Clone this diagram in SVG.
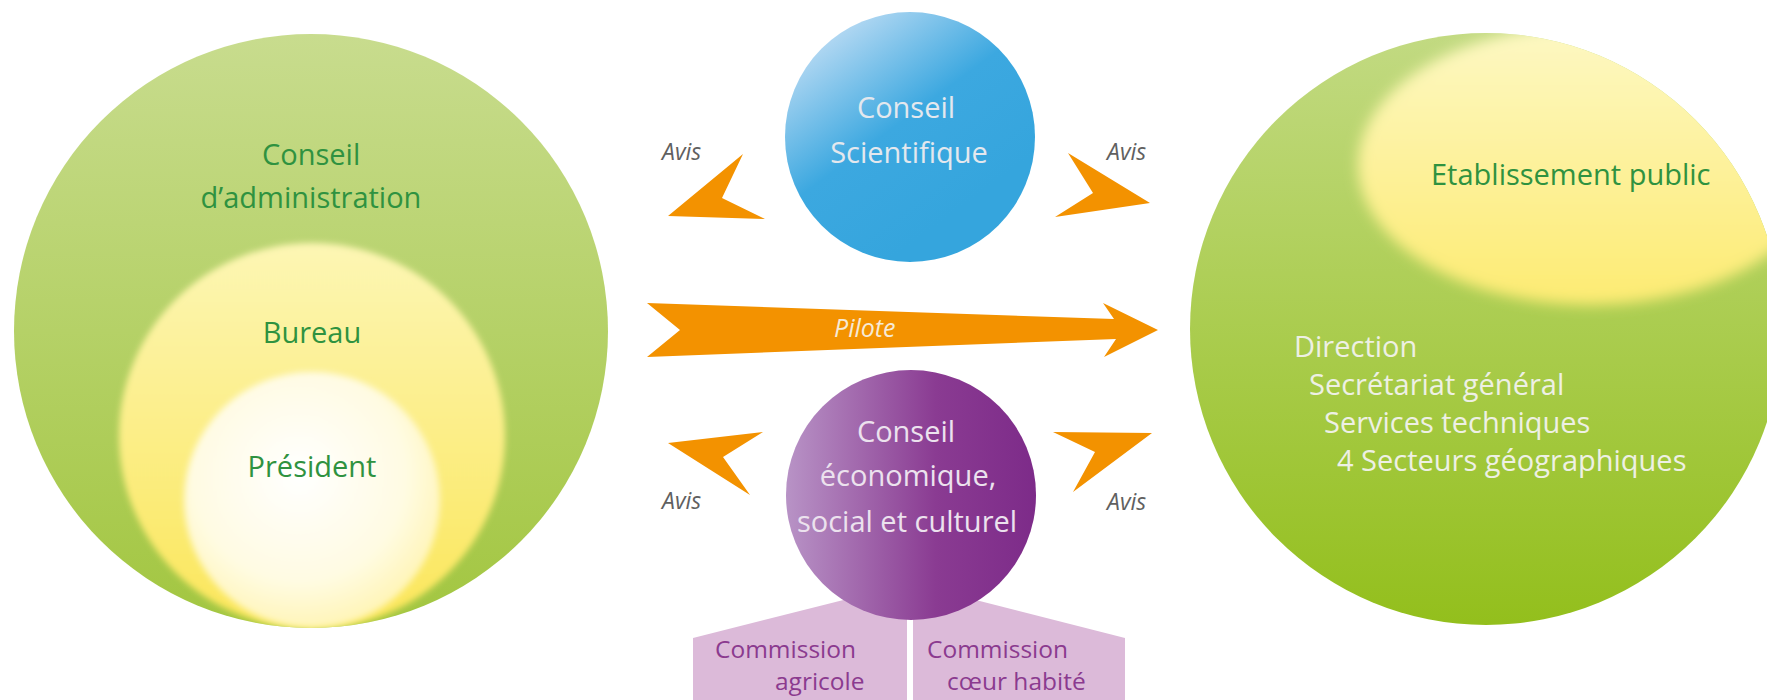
<svg xmlns="http://www.w3.org/2000/svg" width="1767" height="700" viewBox="0 0 1767 700">
<defs>
<linearGradient id="gLeft" x1="0" y1="0" x2="0" y2="1"><stop offset="0" stop-color="#c8dc8e"/><stop offset="1" stop-color="#a2c640"/></linearGradient>
<linearGradient id="gRight" x1="0" y1="0" x2="0" y2="1"><stop offset="0" stop-color="#c2da82"/><stop offset="1" stop-color="#93bf1c"/></linearGradient>
<linearGradient id="gBureau" x1="0" y1="0" x2="0" y2="1"><stop offset="0" stop-color="#fdf6b4"/><stop offset="1" stop-color="#fbe65a"/></linearGradient>
<radialGradient id="gPres" cx="0.45" cy="0.4" r="0.6"><stop offset="0" stop-color="#ffffff"/><stop offset="0.7" stop-color="#fffbe2"/><stop offset="1" stop-color="#fff5b8"/></radialGradient>
<linearGradient id="gEtab" x1="0" y1="0" x2="0" y2="1"><stop offset="0" stop-color="#fdf8c4"/><stop offset="1" stop-color="#fdeb72"/></linearGradient>
<linearGradient id="gBlue" x1="0.2" y1="0" x2="0.75" y2="0.75"><stop offset="0" stop-color="#c4dff5"/><stop offset="0.55" stop-color="#3ca8e0"/><stop offset="1" stop-color="#35a5dd"/></linearGradient>
<linearGradient id="gPurple" x1="0" y1="0" x2="1" y2="0"><stop offset="0" stop-color="#b893c6"/><stop offset="0.6" stop-color="#8a3b92"/><stop offset="1" stop-color="#7d2b89"/></linearGradient>
<filter id="soft" x="-10%" y="-10%" width="120%" height="120%"><feGaussianBlur stdDeviation="3"/></filter>
<filter id="soft2" x="-10%" y="-10%" width="120%" height="120%"><feGaussianBlur stdDeviation="7"/></filter>
<clipPath id="clipRight"><circle cx="1486" cy="329" r="296"/></clipPath>
<clipPath id="clipLeft"><circle cx="311" cy="331" r="297"/></clipPath>
</defs>
<style>
.t{font-family:"Open Sans","Liberation Sans",sans-serif;font-size:29px;}
.g{fill:#2f9240;}
.w{fill:#eef0e4;}
.lb{fill:#e4e8ee;}
.lp{fill:#ece2ee;}
.c{text-anchor:middle;}
.avis{font-family:"Open Sans","Liberation Sans",sans-serif;font-size:23px;font-style:italic;fill:#606060;}
.arr{fill:#f39200;}
.com{font-family:"Open Sans","Liberation Sans",sans-serif;font-size:24.5px;fill:#8b3a8f;}
</style>
<rect width="1767" height="700" fill="#ffffff"/>

<g id="conseil-administration">
<circle cx="311" cy="331" r="297" fill="url(#gLeft)"/>
<text class="t g" x="262" y="165">Conseil</text>
<text class="t g c" x="311" y="208">d’administration</text>
</g>
<g id="bureau" clip-path="url(#clipLeft)">
<circle cx="312" cy="436" r="193" fill="url(#gBureau)" filter="url(#soft)"/>
<text class="t g c" x="312" y="343">Bureau</text>
</g>
<g id="president" clip-path="url(#clipLeft)">
<circle cx="312" cy="500" r="128" fill="url(#gPres)" filter="url(#soft)"/>
<text class="t g c" x="312" y="477">Président</text>
</g>

<g id="etablissement-public">
<circle cx="1486" cy="329" r="296" fill="url(#gRight)"/>
<g clip-path="url(#clipRight)">
<ellipse cx="1590" cy="165" rx="232" ry="140" fill="url(#gEtab)" filter="url(#soft2)"/>
</g>
<text class="t g" x="1431" y="185">Etablissement public</text>
<text class="t w" x="1294" y="357">Direction</text>
<text class="t w" x="1309" y="395">Secrétariat général</text>
<text class="t w" x="1324" y="433">Services techniques</text>
<text class="t w" x="1337" y="471">4 Secteurs géographiques</text>
</g>

<g id="commissions">
<polygon points="693,700 693,638 907,584 907,700" fill="#dcbad9"/>
<polygon points="913,700 913,584 1125,638 1125,700" fill="#dcbad9"/>
<text class="com" x="715" y="658">Commission</text>
<text class="com" x="775" y="690">agricole</text>
<text class="com" x="927" y="658">Commission</text>
<text class="com" x="947" y="690">cœur habité</text>
</g>

<g id="conseil-scientifique">
<circle cx="910" cy="137" r="125" fill="url(#gBlue)"/>
<text class="t lb c" x="906" y="118">Conseil</text>
<text class="t lb c" x="909" y="163">Scientifique</text>
</g>

<g id="conseil-economique">
<circle cx="911" cy="495" r="125" fill="url(#gPurple)"/>
<text class="t lp c" x="906" y="442">Conseil</text>
<text class="t lp c" x="908" y="486">économique,</text>
<text class="t lp c" x="907" y="532">social et culturel</text>
</g>

<g id="connectors">
<polygon class="arr" points="647,303 1114,319 1103,303 1158,330 1104,357 1116,339 647,357 680,330"/>
<text class="avis" x="834" y="337" style="fill:#f6ead6;font-size:25px">Pilote</text>
<polygon class="arr" points="668,216 743,154 722,198 765,219"/>
<polygon class="arr" points="1068,153 1150,203 1055,217 1093,193"/>
<polygon class="arr" points="668,443 763,432 723,457 750,495"/>
<polygon class="arr" points="1053,432 1152,433 1073,492 1095,452"/>
<text class="avis" x="662" y="160">Avis</text>
<text class="avis" x="1107" y="160">Avis</text>
<text class="avis" x="662" y="509">Avis</text>
<text class="avis" x="1107" y="510">Avis</text>
</g>
</svg>
